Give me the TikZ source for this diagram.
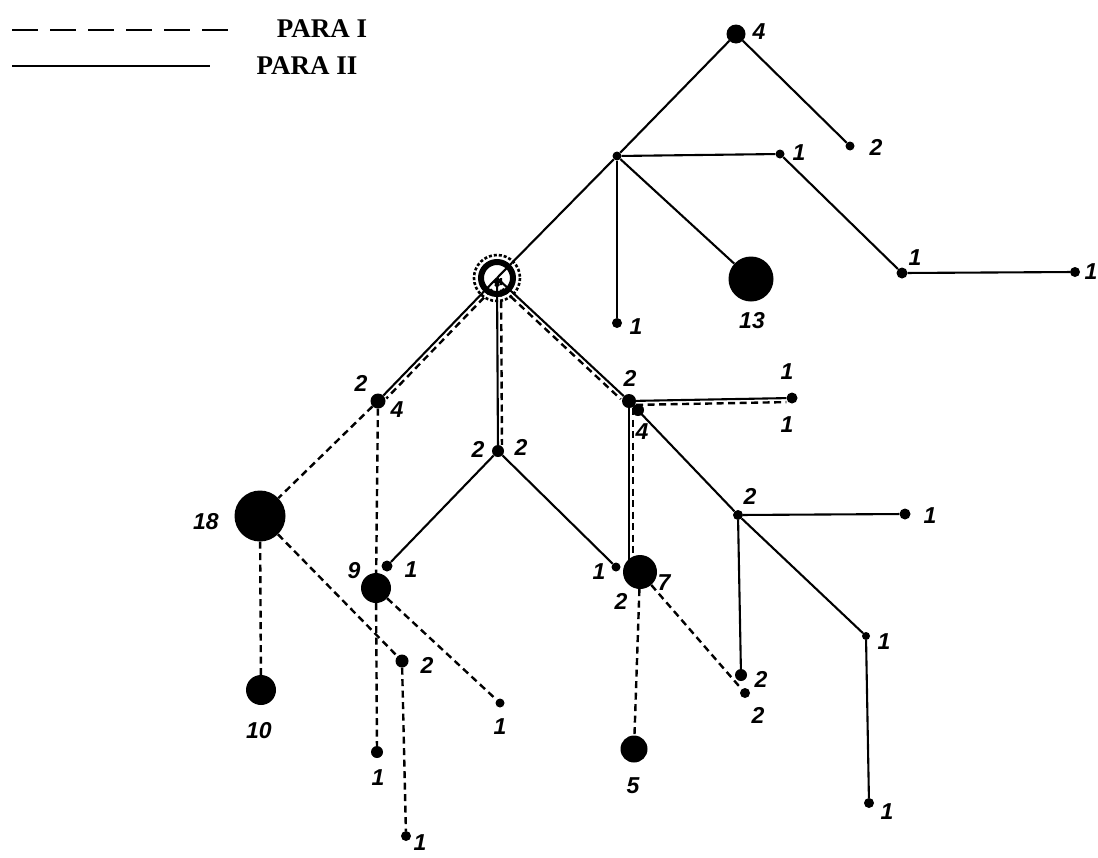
\documentclass[tikz,border=0pt]{standalone}
\usepackage{fontspec}
\setmainfont{Liberation Serif}
\newfontfamily\handfont{Liberation Sans}
\begin{document}
\begin{tikzpicture}[x=1pt,y=-1pt,
  sol/.style={line width=2.1pt},
  dsh/.style={line width=2.4pt, dash pattern=on 7pt off 4.5pt},
  dot/.style={circle,fill=black,inner sep=0pt,minimum size=#1},
  lab/.style={font=\handfont\bfseries\itshape\fontsize{23}{23}\selectfont, inner sep=0pt},
  leg/.style={font=\bfseries\fontsize{27}{27}\selectfont, inner sep=0pt}]
\useasboundingbox (0,0) rectangle (1098,857);
% legend
\coordinate (la) at (12,30); \coordinate (lb) at (228,30);
\coordinate (lc) at (12,66); \coordinate (ld) at (210,66);
\draw[line width=1.8pt, dash pattern=on 26pt off 12pt] (la) -- (lb);
\draw[line width=1.8pt] (lc) -- (ld);
\node[leg] (legI) at (322,29) {PARA I};
\node[leg] (legII) at (307,66) {PARA II};
% nodes
\coordinate (R) at (497,278);
\node[dot=19] (T4) at (736,34) {};
\node[dot=9] (T2) at (850,146) {};
\node[dot=9] (A) at (617,156) {};
\node[dot=9] (B1) at (780,154) {};
\node[dot=11] (C1) at (902,273) {};
\node[dot=10] (D1) at (1075,272) {};
\node[dot=10] (E1) at (617,323) {};
\node[dot=45] (F13) at (751,279) {};
\node[dot=15] (G) at (378,401) {};
\node[dot=12] (H) at (498,451) {};
\node[dot=14] (J) at (629,401) {};
\node[dot=12] (J2) at (638,410) {};
\node[dot=11] (K1) at (792,398) {};
\node[dot=10] (L) at (738,515) {};
\node[dot=11] (M1) at (905,514) {};
\node[dot=12] (N2) at (741,675) {};
\node[dot=8] (P1) at (866,636) {};
\node[dot=10] (Q1) at (869,803) {};
\node[dot=34] (S7) at (640,572) {};
\coordinate (Sj) at (629,560);
\node[dot=9] (H1r) at (616,567) {};
\node[dot=11] (H1l) at (387,566) {};
\node[dot=27] (T5) at (634,749) {};
\node[dot=10] (U2) at (745,693) {};
\node[dot=51] (B18) at (260,516) {};
\node[dot=30] (N9) at (376,588) {};
\node[dot=30] (N10) at (261,690) {};
\node[dot=13] (V2) at (402,661) {};
\node[dot=10] (W1) at (406,836) {};
\node[dot=12] (X1) at (377,752) {};
\node[dot=9] (Y1) at (500,703) {};
% solid edges (PARA II)
\draw[sol] (R) -- (A);
\draw[sol] (A) -- (T4);
\draw[sol] (T4) -- (T2);
\draw[sol] (A) -- (B1);
\draw[sol] (B1) -- (C1);
\draw[sol] (C1) -- (D1);
\draw[sol] (A) -- (E1);
\draw[sol] (A) -- (F13);
\draw[sol] (R) -- (G);
\draw[sol] (R) -- (H);
\draw[sol] (R) -- (J);
\draw[sol] (J) -- (K1);
\draw[sol] (J) -- (L);
\draw[sol] (L) -- (M1);
\draw[sol] (L) -- (N2);
\draw[sol] (L) -- (P1);
\draw[sol] (P1) -- (Q1);
\draw[sol] (J) -- (Sj);
\draw[sol] (H) -- (H1r);
\draw[sol] (H) -- (H1l);
% dashed edges (PARA I)
\draw[dsh, transform canvas={shift={(3pt,-3pt)}}] (R) -- (G);
\draw[dsh, transform canvas={shift={(4pt,0pt)}}] (R) -- (H);
\draw[dsh, transform canvas={shift={(-3pt,-3pt)}}] (R) -- (J);
\draw[dsh, transform canvas={shift={(0pt,-4pt)}}] (J) -- (K1);
\draw[dsh, transform canvas={shift={(4pt,0pt)}}] (J) -- (Sj);
\draw[dsh] (G) -- (B18);
\draw[dsh] (G) -- (N9);
\draw[dsh] (B18) -- (N10);
\draw[dsh] (B18) -- (V2);
\draw[dsh] (V2) -- (W1);
\draw[dsh] (N9) -- (X1);
\draw[dsh] (N9) -- (Y1);
\draw[dsh] (S7) -- (T5);
\draw[dsh] (S7) -- (U2);
% root rings
\draw[line width=6pt] (R) circle (16);
\draw[line width=2.6pt, dash pattern=on 3pt off 2pt] (R) circle (23);
% labels
\node[lab] (a1) at (759,32) {4};
\node[lab] (a2) at (876,147) {2};
\node[lab] (a3) at (799,153) {1};
\node[lab] (a4) at (915,258) {1};
\node[lab] (a5) at (1091,272) {1};
\node[lab] (a6) at (636,327) {1};
\node[lab] (a7) at (752,321) {13};
\node[lab] (a8) at (361,383) {2};
\node[lab] (a9) at (397,410) {4};
\node[lab] (a10) at (478,449) {2};
\node[lab] (a11) at (521,447) {2};
\node[lab] (a12) at (630,378) {2};
\node[lab] (a13) at (642,432) {4};
\node[lab] (a14) at (787,372) {1};
\node[lab] (a15) at (787,425) {1};
\node[lab] (a16) at (750,496) {2};
\node[lab] (a17) at (930,516) {1};
\node[lab] (a18) at (761,679) {2};
\node[lab] (a19) at (758,715) {2};
\node[lab] (a20) at (884,642) {1};
\node[lab] (a21) at (887,812) {1};
\node[lab] (a22) at (664,583) {7};
\node[lab] (a23) at (621,601) {2};
\node[lab] (a24) at (599,572) {1};
\node[lab] (a25) at (411,570) {1};
\node[lab] (a26) at (354,571) {9};
\node[lab] (a27) at (206,522) {18};
\node[lab] (a28) at (259,731) {10};
\node[lab] (a29) at (427,665) {2};
\node[lab] (a30) at (420,843) {1};
\node[lab] (a31) at (378,778) {1};
\node[lab] (a32) at (500,727) {1};
\node[lab] (a33) at (633,786) {5};
\end{tikzpicture}
\end{document}
